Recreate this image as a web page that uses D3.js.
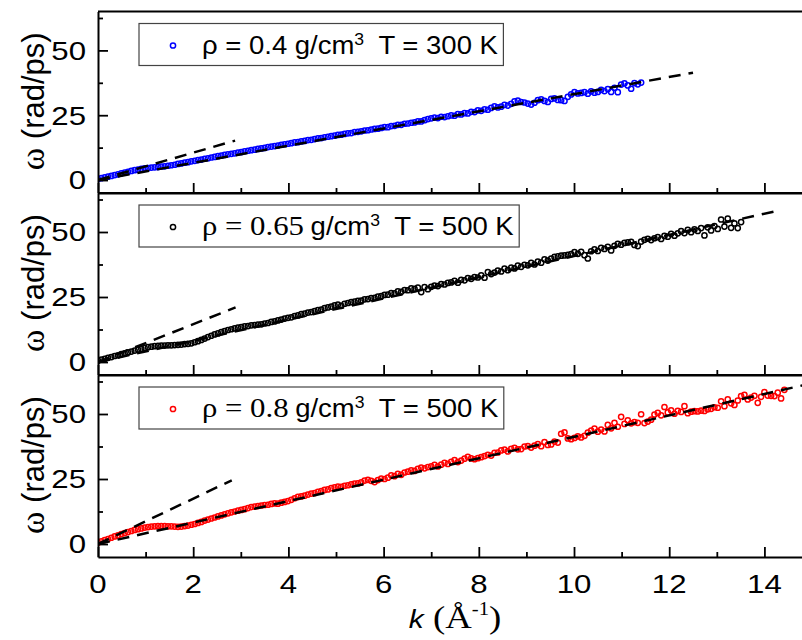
<!DOCTYPE html>
<html>
<head>
<meta charset="utf-8">
<script src="https://cdn.jsdelivr.net/npm/d3@7"></script>
<style>
  body { margin: 0; background: #fff; }
  svg text { font-family: "Liberation Sans", Arial, sans-serif; fill: #000; }
  svg .serif { font-family: "Liberation Serif", "Times New Roman", serif; }
</style>
</head>
<body>
<svg id="chart" width="802" height="640"></svg>
<script>
// k grid shared by the three runs (Å^-1)
const kGrid = [
  0,0.07,0.14,0.21,0.28,0.35,0.42,0.49,0.56,0.63,
  0.7,0.77,0.84,0.91,0.98,1.05,1.12,1.19,1.26,1.33,
  1.4,1.47,1.54,1.61,1.68,1.75,1.82,1.89,1.96,2.03,
  2.1,2.17,2.24,2.31,2.38,2.45,2.52,2.59,2.66,2.73,
  2.8,2.87,2.94,3.01,3.08,3.15,3.22,3.29,3.36,3.43,
  3.5,3.57,3.64,3.71,3.78,3.85,3.92,3.99,4.06,4.13,
  4.2,4.27,4.34,4.41,4.48,4.55,4.62,4.69,4.76,4.83,
  4.9,4.97,5.04,5.11,5.18,5.25,5.32,5.39,5.46,5.53,
  5.6,5.67,5.74,5.81,5.88,5.95,6.02,6.09,6.16,6.23,
  6.3,6.37,6.44,6.51,6.58,6.65,6.72,6.79,6.86,6.93,
  7,7.07,7.14,7.21,7.28,7.35,7.42,7.49,7.56,7.63,
  7.7,7.77,7.84,7.91,7.98,8.05,8.12,8.19,8.26,8.33,
  8.4,8.47,8.54,8.61,8.68,8.75,8.82,8.89,8.96,9.03,
  9.1,9.17,9.24,9.31,9.38,9.45,9.52,9.59,9.66,9.73,
  9.8,9.87,9.94,10.01,10.08,10.15,10.22,10.29,10.36,10.43,
  10.5,10.57,10.64,10.71,10.78,10.85,10.92,10.99,11.06,11.13,
  11.2,11.27,11.34,11.41,11.48,11.55,11.62,11.69,11.76,11.83,
  11.9,11.97,12.04,12.11,12.18,12.25,12.32,12.39,12.46,12.53,
  12.6,12.67,12.74,12.81,12.88,12.95,13.02,13.09,13.16,13.23,
  13.3,13.37,13.44,13.51,13.58,13.65,13.72,13.79,13.86,13.93,
  14,14.07,14.14,14.21,14.28,14.35,14.42
]

// ω (rad/ps), rho = 0.4 g/cm3, T = 300 K
const wTop = [
  0.4,0.7,1.0,1.3,1.6,1.9,2.2,2.6,2.9,3.2,
  3.5,3.8,4.0,4.3,4.5,4.6,4.8,4.9,5.0,5.2,
  5.3,5.5,5.7,5.9,6.2,6.4,6.7,6.9,7.2,7.4,
  7.7,7.9,8.2,8.4,8.7,8.9,9.2,9.4,9.7,9.9,
  10.1,10.3,10.6,10.8,11.1,11.3,11.5,11.7,12.0,12.2,
  12.4,12.7,12.9,13.1,13.3,13.6,13.8,14.0,14.2,14.5,
  14.6,14.9,15.1,15.4,15.5,15.8,16.1,16.2,16.5,16.7,
  16.9,17.1,17.4,17.5,17.8,18.0,18.1,18.5,18.6,18.8,
  19.1,19.2,19.5,19.7,19.8,20.1,20.4,20.4,20.8,20.9,
  21.3,21.3,21.7,21.8,22.1,22.2,22.6,22.6,23.1,23.5,
  23.8,24.1,23.9,24.4,24.3,24.6,24.9,24.8,25.4,25.3,
  25.8,25.7,26.3,26.2,26.9,26.7,27.3,27.1,27.8,28.4,
  28.0,28.3,29.0,28.7,29.4,30.3,30.6,30.1,29.9,29.5,
  29.1,29.8,30.8,31.1,30.5,30.1,31.3,31.5,30.9,30.8,
  30.5,32.1,33.0,33.9,33.4,33.6,33.9,33.3,34.2,33.7,
  34.0,34.8,34.3,35.1,34.0,35.6,33.9,36.8,37.3,36.5,
  35.2,37.4,36.9,37.6
]

// ω (rad/ps), rho = 0.65 g/cm3, T = 500 K
const wMid = [
  0.5,0.9,1.2,1.6,1.9,2.3,2.6,3.0,3.3,3.7,
  4.0,4.4,4.8,5.1,5.4,5.7,5.9,6.1,6.2,6.3,
  6.3,6.4,6.4,6.5,6.6,6.7,6.9,7.0,7.2,7.6,
  8.0,8.5,9.0,9.6,10.1,10.6,11.0,11.5,11.9,12.3,
  12.6,12.9,13.2,13.4,13.7,13.8,14.1,14.2,14.4,14.5,
  14.8,15.0,15.4,15.6,16.0,16.3,16.7,17.0,17.2,17.7,
  17.9,18.4,18.6,19.0,19.2,19.6,20.0,20.2,20.7,21.0,
  21.3,21.8,22.1,21.6,22.4,22.7,23.0,23.2,23.5,23.6,
  24.1,24.2,24.6,24.7,25.2,25.3,25.8,25.9,26.5,26.4,
  27.2,27.0,27.7,27.6,28.3,28.1,28.6,26.9,28.8,28.0,
  28.9,29.4,29.2,30.0,29.8,30.4,30.6,31.2,30.5,31.6,
  31.4,32.3,32.0,32.7,32.5,33.3,32.4,34.6,33.8,34.4,
  35.2,34.8,35.9,35.3,36.3,36.0,37.1,36.6,37.4,37.2,
  38.1,37.5,38.6,38.2,39.5,39.0,39.8,40.4,40.6,40.9,
  41.0,41.2,41.5,42.3,41.6,42.4,41.1,39.8,42.6,43.3,
  42.7,43.9,43.5,44.3,42.9,44.7,45.4,45.1,45.8,46.0,
  46.2,45.0,44.6,46.3,47.0,47.4,46.9,47.6,48.0,47.3,
  48.5,48.2,49.3,48.6,49.5,50.3,49.6,50.8,49.9,51.0,
  50.4,51.5,48.7,51.8,50.6,52.3,51.2,54.8,52.1,55.2,
  51.6,53.3,51.5,53.8
]

// ω (rad/ps), rho = 0.8 g/cm3, T = 500 K
const wBot = [
  0.5,1.0,1.5,1.9,2.4,2.9,3.3,3.8,4.2,4.6,
  5.0,5.4,5.7,6.0,6.3,6.5,6.7,6.8,6.9,6.9,
  6.9,6.8,6.8,6.7,6.6,6.7,6.9,7.1,7.4,7.7,
  8.1,8.5,9.0,9.4,9.8,10.2,10.6,11.0,11.4,11.8,
  12.2,12.5,12.8,13.1,13.4,13.8,14.2,14.4,14.6,14.8,
  15.0,15.1,15.4,15.6,15.5,15.9,16.2,16.5,17.0,17.6,
  18.1,18.3,18.6,19.0,19.4,19.6,20.1,20.3,20.8,21.0,
  21.5,21.8,22.1,22.0,22.4,22.6,22.9,23.2,23.3,23.7,
  24.4,24.7,24.3,23.8,24.6,25.2,25.0,25.5,26.4,26.1,
  27.0,26.6,27.5,27.8,28.3,28.1,28.9,29.4,29.1,29.6,
  29.9,30.4,29.8,30.5,31.2,30.8,31.6,32.3,31.5,32.1,
  32.8,33.5,32.9,32.6,33.0,33.4,33.8,34.3,34.0,35.1,
  35.2,36.0,36.3,35.6,36.6,37.0,36.4,36.5,37.5,37.7,
  37.1,37.8,38.4,37.6,39.2,38.1,38.3,39.4,39.0,42.4,
  42.9,40.6,40.3,40.8,41.4,41.0,41.6,42.8,43.6,44.4,
  43.2,44.0,43.3,45.8,44.5,46.6,45.1,48.9,46.2,47.6,
  46.4,46.9,46.6,49.9,46.5,47.1,47.8,49.8,50.4,49.5,
  52.7,50.6,51.4,50.1,51.2,50.8,53.0,50.3,50.9,51.1,
  51.0,51.3,51.2,51.8,52.0,52.6,52.4,54.9,53.0,55.6,
  54.1,53.5,55.2,56.9,57.4,55.6,56.3,57.0,54.3,56.6,
  58.4,57.1,57.0,56.9,58.2,56.0,59.3
]

// dashed lines: [k, ω] end points
const fitTop = [[0, 0], [12.5, 41.4]]
const lowTop = [[0, 0], [2.88, 15.2]]
const fitMid = [[0, 0], [14.26, 58.1]]
const lowMid = [[0, 0], [2.89, 21.0]]
const fitBot = [[0, 0], [14.8, 61.0]]
const lowBot = [[0, 0], [2.81, 24.5]]

const rhoLabels = ['0.4', '0.65', '0.8']
const tLabels = ['300', '500', '500']
const colors = ['#0000ff', '#000000', '#ff0000']

const xTicks = [0, 2, 4, 6, 8, 10, 12, 14]
const xMinor = [1, 3, 5, 7, 9, 11, 13]
const yTicks = [0, 25, 50]
const yMinor = [12.5, 37.5, 62.5]

const panels = [
  {w: wTop, fit: fitTop, low: lowTop, y0: 11.5, y1: 193},
  {w: wMid, fit: fitMid, low: lowMid, y0: 193, y1: 375},
  {w: wBot, fit: fitBot, low: lowBot, y0: 375, y1: 557}
]

const svg = d3.select('#chart')
const x = d3.scaleLinear().domain([0, 14.8]).range([98, 802.5])
const sx = 1.2    // tick lettering in the original is stretched sideways
const lsx = 1.1   // same for the legend lines

panels.forEach(function(p, n) {
  const y = d3.scaleLinear().domain([-5, 65]).range([p.y1, p.y0])
  const g = svg.append('g')
  const pts = p.w.map((w, i) => [kGrid[i], w])

  svg.append('clipPath').attr('id', 'clip' + n)
    .append('rect')
    .attr('x', 98).attr('y', p.y0)
    .attr('width', 704).attr('height', p.y1 - p.y0)

  const plot = g.append('g').attr('clip-path', `url(#clip${n})`)

  plot.selectAll('circle').data(pts).join('circle')
    .attr('cx', d => x(d[0]))
    .attr('cy', d => y(d[1]))
    .attr('r', 2.6)
    .attr('fill', 'none')
    .attr('stroke', colors[n])
    .attr('stroke-width', 1.5)

  const line = d3.line().x(d => x(d[0])).y(d => y(d[1]))
  plot.selectAll('path.fit').data([p.fit, p.low]).join('path')
    .attr('class', 'fit')
    .attr('d', line)
    .attr('fill', 'none')
    .attr('stroke', '#000')
    .attr('stroke-width', 2.5)
    .attr('stroke-dasharray', '12,8')

  // frame top
  g.append('line')
    .attr('x1', 98).attr('x2', 802)
    .attr('y1', p.y0).attr('y2', p.y0)
    .attr('stroke', '#000').attr('stroke-width', 2)

  // left axis, ticks inside
  const ax = g.append('g').attr('transform', 'translate(98,0)')
  ax.call(d3.axisLeft(y).tickValues(yTicks).tickSize(-10).tickSizeOuter(0).tickFormat(''))
  ax.append('g').call(d3.axisLeft(y).tickValues(yMinor).tickSize(-5).tickFormat(''))
    .select('.domain').remove()
  ax.selectAll('.domain').attr('stroke-width', 2)
  ax.selectAll('.tick line').attr('stroke-width', 1.8)

  g.selectAll('text.ylab').data(yTicks).join('text')
    .attr('class', 'ylab')
    .attr('transform', d => `translate(86,${y(d)}) scale(${sx},1)`)
    .attr('text-anchor', 'end')
    .attr('dy', '0.36em')
    .style('font-size', '26px')
    .text(d => d)

  // bottom axis, ticks inside
  const bx = g.append('g').attr('transform', `translate(0,${p.y1})`)
  bx.call(d3.axisBottom(x).tickValues(xTicks).tickSize(-10).tickSizeOuter(0).tickFormat(''))
  bx.append('g').call(d3.axisBottom(x).tickValues(xMinor).tickSize(-5).tickFormat(''))
    .select('.domain').remove()
  bx.selectAll('.domain').attr('stroke-width', 2)
  bx.selectAll('.tick line').attr('stroke-width', 1.8)

  // legend
  const boxY = p.y0 + 12
  const leg = g.append('g')
  const box = leg.append('rect')
    .attr('x', 139).attr('y', boxY).attr('height', 42)
    .attr('fill', '#fff').attr('stroke', '#444').attr('stroke-width', 1.2)
  leg.append('circle')
    .attr('cx', 173).attr('cy', boxY + 22).attr('r', 2.6)
    .attr('fill', 'none').attr('stroke', colors[n]).attr('stroke-width', 1.5)

  const txt = leg.append('text')
    .attr('transform', `translate(202,${boxY + 30}) scale(${lsx},1)`)
    .style('font-size', '25px')
  if (n === 0) {
    txt.append('tspan').text(`ρ = ${rhoLabels[n]} g/cm`)
  } else {
    txt.append('tspan').attr('class', 'serif').style('font-size', '28px').text(`ρ = ${rhoLabels[n]}`)
    txt.append('tspan').attr('dx', 6).text('g/cm')
  }
  txt.append('tspan').attr('dy', -9).style('font-size', '16px').text('3')
  txt.append('tspan').attr('dy', 9).attr('dx', 13).text(`T = ${tLabels[n]} K`)

  const bb = txt.node().getBBox()
  box.attr('width', 202 - 139 + bb.width * lsx + 5)

  // y title
  g.append('text')
    .attr('transform', `translate(44,${(p.y0 + p.y1) / 2 - 1}) rotate(-90)`)
    .attr('text-anchor', 'middle')
    .style('font-size', '31px')
    .call(t => {
      t.append('tspan').attr('class', 'serif').style('font-size', '34px').text('ω')
      t.append('tspan').text(' (rad/ps)')
    })

  if (n === panels.length - 1) {
    g.selectAll('text.xlab').data(xTicks).join('text')
      .attr('class', 'xlab')
      .attr('transform', d => `translate(${x(d)},593) scale(${sx},1)`)
      .attr('text-anchor', 'middle')
      .style('font-size', '26px')
      .text(d => d)
  }
})

// x title
const xt = svg.append('text')
  .attr('transform', `translate(455,628) scale(1.15,1)`)
  .attr('text-anchor', 'middle')
  .style('font-size', '26px')
xt.append('tspan').style('font-style', 'italic').text('k')
xt.append('tspan').attr('class', 'serif').style('font-size', '32px').text(' (Å')
xt.append('tspan').attr('class', 'serif').attr('dy', -13).style('font-size', '18px').text('-1')
xt.append('tspan').attr('class', 'serif').attr('dy', 13).style('font-size', '32px').text(')')
</script>
</body>
</html>
